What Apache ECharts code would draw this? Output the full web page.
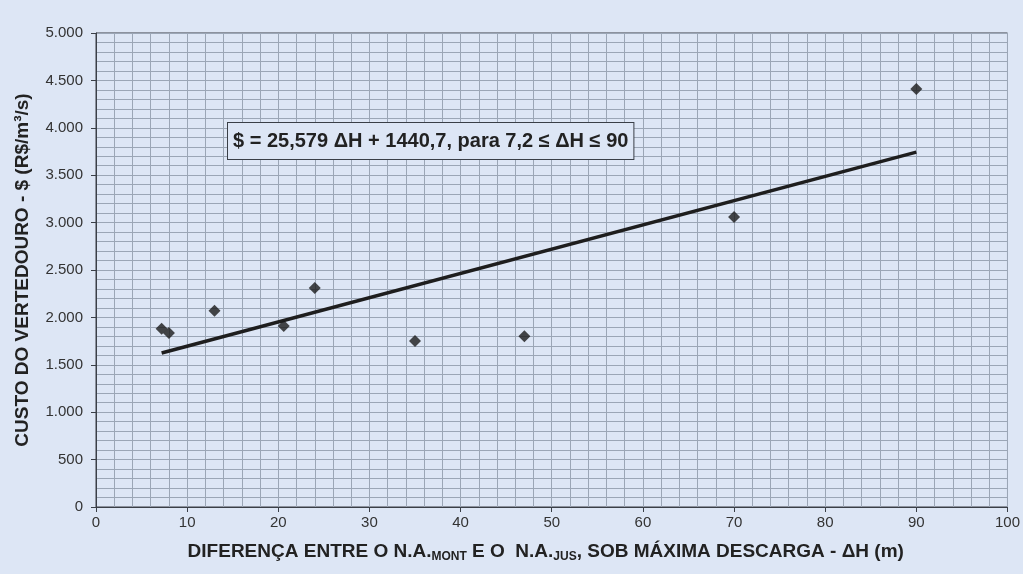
<!DOCTYPE html>
<html><head><meta charset="utf-8">
<script src="https://cdn.jsdelivr.net/npm/echarts@6/dist/echarts.min.js"></script>
<style>html,body{margin:0;padding:0;background:#dde6f5;}#c{width:1023px;height:574px;}</style>
</head><body><div id="c"></div>
<script>
const deltaH = [7.2, 8, 13, 20.6, 24, 35, 47, 70, 90];
const custo = [1880, 1835, 2070, 1910, 2310, 1750, 1800, 3060, 4410];
const trendX = [7.2, 90];
const trendY = [1625, 3743];
const equationText = '$ = 25,579 ΔH + 1440,7, para 7,2 ≤ ΔH ≤ 90';
const xTitleParts = ['DIFERENÇA ENTRE O N.A.', 'MONT', ' E O  N.A.', 'JUS', ', SOB MÁXIMA DESCARGA - ΔH (m)'];
const yTitle = 'CUSTO DO VERTEDOURO - $ (R$/m³/s)';

const font = '"Liberation Sans", Arial, sans-serif';
const gridCol = '#9ba6b6';
const chart = echarts.init(document.getElementById('c'));
chart.setOption({
  backgroundColor: '#dde6f5',
  animation: false,
  grid: {left: 96, right: 14, top: 33, bottom: 67, show: true, borderColor: '#3a3f47', borderWidth: 1, backgroundColor: 'transparent'},
  xAxis: {
    type: 'value', min: 0, max: 100, interval: 10,
    axisLine: {show: true, lineStyle: {color: '#3a3f47', width: 1}},
    axisTick: {show: true, length: 5, lineStyle: {color: '#3a3f47'}},
    axisLabel: {color: '#333', fontFamily: font, fontSize: 15, margin: 8},
    splitLine: {show: true, lineStyle: {color: gridCol, width: 1}},
    minorTick: {show: false, splitNumber: 5},
    minorSplitLine: {show: true, lineStyle: {color: gridCol, width: 1}},
    name: xTitleParts.map((p, i) => i % 2 === 1 ? '{sub|' + p + '}' : '{b|' + p + '}').join(''),
    nameLocation: 'middle', nameGap: 34,
    nameTextStyle: {padding: [0, 12, 0, 0], rich: {
      b: {fontFamily: font, fontSize: 19, fontWeight: 'bold', color: '#222'},
      sub: {fontFamily: font, fontSize: 12, fontWeight: 'bold', color: '#222', verticalAlign: 'bottom', padding: [10, 0, 0, 0]}
    }}
  },
  yAxis: {
    type: 'value', min: 0, max: 5000, interval: 500,
    axisLine: {show: true, lineStyle: {color: '#3a3f47', width: 1}},
    axisTick: {show: true, length: 5, lineStyle: {color: '#3a3f47'}},
    axisLabel: {color: '#333', fontFamily: font, fontSize: 15, margin: 13,
      formatter: v => v >= 1000 ? Math.floor(v / 1000) + '.' + String(v % 1000).padStart(3, '0') : String(v)},
    splitLine: {show: true, lineStyle: {color: gridCol, width: 1}},
    minorTick: {show: false, splitNumber: 5},
    minorSplitLine: {show: true, lineStyle: {color: gridCol, width: 1}},
    name: yTitle, nameLocation: 'middle', nameGap: 64, nameRotate: 90,
    nameTextStyle: {fontFamily: font, fontSize: 19, fontWeight: 'bold', color: '#222'}
  },
  series: [
    {type: 'line', data: trendX.map((x, i) => [x, trendY[i]]), symbol: 'none',
     lineStyle: {color: '#1e1e1e', width: 3.5}, z: 3},
    {type: 'scatter', data: deltaH.map((x, i) => [x, custo[i]]), symbol: 'diamond', symbolSize: 12,
     itemStyle: {color: '#1a1a1a'}, z: 4}
  ],
  graphic: [{
    type: 'text', left: 227, top: 122, z: 10,
    style: {text: equationText, fontFamily: font, fontSize: 20, fontWeight: 'bold', fill: '#222',
      backgroundColor: '#dde6f5', borderColor: '#3a3f47', borderWidth: 1, padding: [8, 5, 8, 5]}
  }]
});
</script></body></html>
